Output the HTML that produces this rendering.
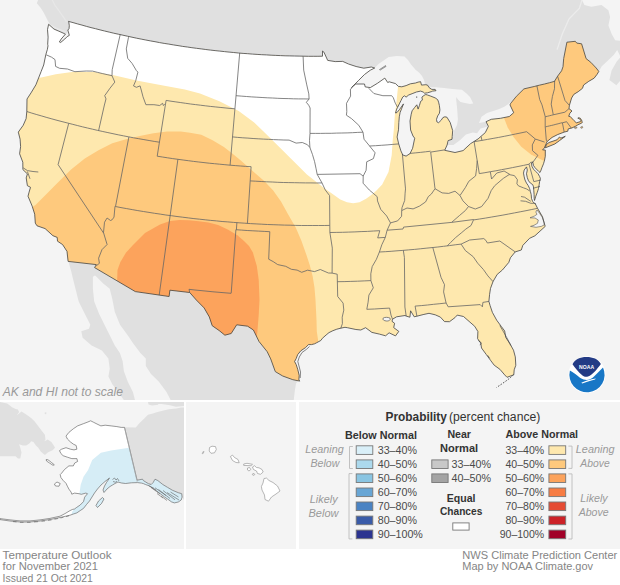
<!DOCTYPE html><html><head><meta charset="utf-8"><style>
html,body{margin:0;padding:0}
body{width:620px;height:585px;background:#fff;position:relative;overflow:hidden;font-family:"Liberation Sans",sans-serif}
</style></head><body>
<svg width="620" height="585" viewBox="0 0 620 585" style="position:absolute;left:0;top:0;font-family:'Liberation Sans',sans-serif">
<defs><clipPath id="usc"><path d="M68.7,21.3 L69.3,25.8 L69.0,28.8 L67.8,30.0 L68.4,31.8 L69.3,35.4 L67.2,36.6 L64.8,39.0 L60.6,42.5 L59.4,42.0 L61.2,39.0 L65.4,34.2 L63.0,33.0 L58.2,30.9 L54.0,29.1 L48.6,24.3 L47.5,29.6 L48.1,37.1 L47.7,44.3 L48.0,45.8 L47.4,49.3 L45.8,54.7 L43.7,65.0 L41.1,71.6 L35.9,84.8 L31.0,92.9 L27.0,99.0 L26.8,111.5 L26.1,118.7 L23.2,125.3 L18.3,132.1 L20.1,139.2 L20.6,146.7 L19.6,153.8 L22.8,162.2 L22.9,169.6 L27.4,173.9 L26.2,177.9 L27.4,185.7 L30.5,187.3 L29.1,192.1 L28.0,196.2 L32.2,206.2 L34.7,214.2 L35.3,223.1 L37.0,225.8 L45.1,228.6 L52.9,235.7 L57.2,237.4 L57.5,241.2 L62.6,244.6 L67.0,251.4 L68.1,261.4 L96.3,264.6 L94.6,267.6 L135.3,291.6 L169.1,296.5 L169.9,290.2 L189.7,292.5 L196.4,300.1 L204.1,307.9 L209.3,316.9 L212.2,325.7 L219.1,330.5 L224.9,335.2 L231.2,333.5 L236.7,324.8 L247.6,326.2 L253.4,330.0 L259.0,341.5 L267.2,351.7 L270.7,358.9 L275.3,371.6 L282.7,376.0 L292.8,379.7 L299.8,381.1 L298.9,380.0 L299.2,375.4 L297.7,369.2 L296.2,364.6 L294.6,361.5 L296.2,358.5 L297.7,354.6 L300.8,350.8 L305.4,347.7 L308.5,344.6 L311.5,344.6 L314.6,343.8 L316.5,342.8 L320.8,340.5 L322.3,338.4 L326.1,335.0 L329.0,332.6 L332.9,330.7 L336.8,329.2 L340.7,328.2 L345.0,327.3 L347.3,327.7 L355.9,329.5 L360.8,330.0 L365.6,327.7 L371.9,332.4 L379.4,334.1 L385.6,335.8 L389.1,332.8 L395.5,335.9 L398.8,331.4 L393.7,327.6 L394.6,323.3 L392.0,321.3 L392.5,319.2 L396.6,316.8 L405.0,315.5 L406.2,316.1 L409.9,317.2 L410.6,310.8 L414.2,316.8 L416.9,316.2 L423.1,314.6 L429.0,313.3 L435.2,314.8 L440.4,317.1 L444.5,321.6 L449.5,321.7 L455.1,317.5 L457.2,315.1 L463.5,316.5 L469.1,321.4 L474.7,326.3 L477.9,331.5 L477.6,338.7 L480.8,343.2 L481.5,348.0 L486.2,354.4 L490.9,360.8 L494.2,365.2 L499.9,369.3 L504.7,374.9 L507.0,377.3 L513.8,374.8 L514.2,369.8 L515.8,365.3 L515.3,356.9 L513.5,350.2 L509.9,343.7 L505.7,337.3 L504.7,331.0 L501.4,326.6 L496.7,320.2 L492.4,312.4 L490.1,305.6 L488.9,301.4 L489.6,294.3 L490.5,288.4 L493.0,281.6 L497.2,274.4 L502.4,270.0 L508.8,262.4 L510.4,257.8 L515.2,251.9 L521.3,250.0 L522.8,245.4 L529.6,238.3 L534.9,235.8 L545.2,226.4 L542.5,216.8 L537.6,208.4 L535.1,203.4 L535.5,204.0 L534.2,203.1 L532.7,201.5 L531.5,198.5 L531.2,194.6 L530.4,191.5 L529.6,188.5 L528.1,185.4 L526.5,183.1 L525.0,180.0 L524.2,176.9 L523.5,173.1 L524.2,170.0 L526.5,166.9 L527.3,170.0 L526.5,173.8 L527.3,177.7 L528.5,180.8 L530.4,183.1 L532.7,184.6 L533.5,186.9 L533.8,190.8 L534.1,194.6 L534.2,198.5 L534.5,200.5 L535.8,196.2 L537.3,192.3 L538.5,188.5 L539.2,184.6 L539.6,181.5 L540.4,178.5 L539.6,176.5 L538.1,173.8 L535.8,171.5 L533.5,169.2 L531.9,166.2 L531.5,163.1 L532.7,162.0 L533.5,165.5 L535.0,167.7 L537.3,170.0 L538.8,171.5 L540.0,172.5 L540.6,171.3 L541.9,167.7 L543.5,163.8 L544.6,160.0 L545.3,156.2 L545.3,150.0 L542.6,149.9 L544.3,148.0 L546.1,143.9 L547.1,141.5 L552.1,137.4 L557.8,134.5 L564.2,132.1 L567.8,131.2 L568.2,128.9 L571.8,128.0 L575.6,126.2 L577.9,124.8 L581.8,123.0 L582.2,122.6 L581.9,120.8 L580.4,118.3 L578.7,117.7 L577.8,118.2 L579.2,118.6 L580.8,120.4 L580.3,121.7 L576.3,122.8 L574.1,120.7 L570.3,116.6 L568.7,116.3 L569.9,113.1 L572.0,111.0 L569.0,108.6 L569.4,105.4 L571.6,98.0 L573.8,94.4 L578.2,91.7 L582.5,88.3 L583.6,85.0 L588.8,81.3 L594.1,78.2 L597.1,74.3 L598.8,71.4 L596.2,68.0 L590.8,62.3 L586.1,58.6 L581.6,43.8 L576.8,43.1 L575.3,41.3 L566.9,42.2 L563.7,58.5 L563.0,66.7 L561.6,70.8 L557.6,76.2 L554.6,81.1 L554.7,81.3 L549.6,82.7 L544.5,84.0 L539.3,85.2 L534.2,86.5 L529.0,87.7 L523.9,88.9 L516.4,96.3 L510.7,103.3 L510.0,104.9 L513.7,112.7 L509.3,116.5 L500.4,118.3 L491.3,119.3 L486.0,121.7 L488.4,126.3 L485.3,132.6 L478.1,138.9 L470.5,143.7 L463.1,150.6 L455.0,152.5 L444.7,150.3 L447.1,145.0 L448.1,140.6 L452.0,139.3 L452.2,136.5 L452.7,130.7 L450.2,122.5 L446.9,117.2 L444.8,116.8 L442.9,117.6 L441.2,120.2 L438.6,122.7 L436.9,121.9 L436.5,119.3 L437.7,115.9 L439.4,113.3 L439.9,109.9 L439.4,105.6 L438.6,102.2 L437.7,99.7 L435.2,97.9 L430.9,96.2 L427.5,95.0 L425.8,94.5 L424.1,95.4 L421.9,97.1 L422.4,100.1 L420.6,101.4 L419.4,105.6 L418.1,109.1 L416.8,104.8 L414.7,107.4 L412.1,110.8 L411.2,114.2 L410.0,121.0 L410.6,130.0 L413.0,136.0 L414.7,138.2 L412.6,148.3 L410.0,153.6 L406.1,156.1 L402.8,155.0 L400.9,150.9 L398.7,143.9 L397.1,137.0 L398.5,129.8 L398.8,122.7 L399.3,116.8 L400.1,112.5 L401.8,108.2 L403.5,103.9 L402.0,106.0 L399.5,109.5 L397.0,112.5 L395.5,113.0 L396.7,109.1 L397.6,107.4 L399.3,103.9 L401.0,100.5 L402.7,97.1 L404.4,95.8 L406.1,97.1 L408.7,95.0 L412.1,93.7 L416.4,92.0 L420.6,91.1 L423.2,92.0 L424.5,93.2 L427.5,92.8 L431.8,91.5 L432.6,91.1 L436.0,90.7 L435.2,89.4 L431.8,89.4 L429.2,87.7 L427.5,85.1 L425.8,84.7 L421.5,85.1 L420.6,81.7 L418.1,82.1 L415.5,83.0 L410.4,83.8 L406.1,85.6 L401.8,86.8 L398.4,86.4 L395.5,83.6 L389.2,81.8 L387.7,82.5 L384.8,78.1 L377.6,83.2 L370.3,87.6 L365.2,86.9 L364.5,84.0 L355.8,84.0 L351.5,87.6 L358.7,80.3 L364.5,74.5 L370.3,70.2 L374.7,68.0 L371.3,67.0 L363.8,68.2 L356.1,66.5 L348.5,64.0 L342.7,61.4 L335.2,61.6 L327.7,60.4 L323.9,52.1 L322.5,51.0 L322.5,56.2 L322.5,56.2 L317.9,56.3 L313.2,56.3 L308.5,56.3 L303.8,56.2 L299.1,56.1 L294.5,56.0 L289.8,55.9 L285.1,55.8 L280.4,55.6 L275.8,55.4 L271.1,55.2 L266.4,54.9 L261.7,54.7 L257.1,54.4 L252.4,54.1 L247.7,53.7 L243.1,53.4 L238.4,53.0 L233.7,52.5 L229.1,52.1 L224.4,51.6 L219.8,51.1 L215.1,50.6 L210.5,50.1 L205.8,49.5 L201.2,48.9 L196.5,48.3 L191.9,47.7 L187.3,47.0 L182.7,46.4 L178.0,45.6 L173.4,44.9 L168.8,44.1 L164.2,43.4 L159.6,42.6 L155.0,41.7 L150.4,40.9 L145.8,40.0 L141.2,39.1 L136.6,38.2 L132.0,37.2 L127.4,36.2 L122.9,35.2 L118.3,34.2 L113.7,33.2 L109.2,32.1 L104.6,31.0 L100.1,29.9 L95.5,28.7 L91.0,27.6 L86.5,26.4 L82.0,25.1 L77.5,23.9 L73.0,22.6 L68.5,21.4Z M545.4,147.8 L554.8,144.0 L559.4,140.7 L565.3,136.3 L560.9,138.1 L559.5,137.0 L557.0,139.8 L549.0,142.5 L546.3,144.6Z"/></clipPath><clipPath id="mapc"><rect width="620" height="400"/></clipPath></defs>
<rect width="620" height="585" fill="#fff"/>
<g clip-path="url(#mapc)">
<rect width="620" height="400" fill="#f4f4f4"/>
<path d="M39.0,-2.0 L36.8,3.2 L40.6,7.7 L43.9,12.9 L45.8,16.8 L47.7,20.6 L49.7,23.9 L48.6,24.3 L54.0,29.1 L58.2,30.9 L63.0,33.0 L65.4,34.2 L67.0,33.0 L68.4,31.8 L67.8,30.0 L69.0,28.8 L69.3,25.8 L68.7,21.3 L68.5,21.4 L73.0,22.6 L77.5,23.9 L82.0,25.1 L86.5,26.4 L91.0,27.6 L95.5,28.7 L100.1,29.9 L104.6,31.0 L109.2,32.1 L113.7,33.2 L118.3,34.2 L122.9,35.2 L127.4,36.2 L132.0,37.2 L136.6,38.2 L141.2,39.1 L145.8,40.0 L150.4,40.9 L155.0,41.7 L159.6,42.6 L164.2,43.4 L168.8,44.1 L173.4,44.9 L178.0,45.6 L182.7,46.4 L187.3,47.0 L191.9,47.7 L196.5,48.3 L201.2,48.9 L205.8,49.5 L210.5,50.1 L215.1,50.6 L219.8,51.1 L224.4,51.6 L229.1,52.1 L233.7,52.5 L238.4,53.0 L243.1,53.4 L247.7,53.7 L252.4,54.1 L257.1,54.4 L261.7,54.7 L266.4,54.9 L271.1,55.2 L275.8,55.4 L280.4,55.6 L285.1,55.8 L289.8,55.9 L294.5,56.0 L299.1,56.1 L303.8,56.2 L308.5,56.3 L313.2,56.3 L317.9,56.3 L322.5,56.2 L322.5,56.2 L322.5,51.0 L323.9,52.1 L327.7,60.4 L335.2,61.6 L342.7,61.4 L348.5,64.0 L356.1,66.5 L363.8,68.2 L371.3,67.0 L375.2,68.6 L374.7,68.0 L378.5,63.9 L388.7,57.1 L397.0,56.0 L404.5,56.5 L408.0,60.0 L411.0,64.4 L415.8,70.0 L419.0,72.5 L422.0,76.0 L424.0,80.0 L425.0,84.0 L428.1,87.3 L436.1,87.3 L444.2,88.1 L452.3,88.9 L461.9,89.7 L466.8,93.7 L470.0,96.9 L472.4,101.8 L473.2,103.4 L470.0,104.0 L465.0,103.0 L460.5,102.0 L458.0,99.5 L456.3,96.9 L456.2,100.0 L457.1,108.2 L457.9,119.5 L457.0,125.0 L455.0,129.0 L454.0,131.1 L452.7,136.4 L449.1,140.5 L447.4,145.0 L453.4,145.1 L460.0,140.3 L465.9,134.4 L472.8,132.6 L477.1,133.3 L480.5,128.4 L487.9,126.4 L486.0,121.7 L479.0,123.0 L481.5,116.8 L487.0,112.9 L498.6,109.3 L504.3,106.8 L508.7,103.7 L516.4,96.3 L523.9,88.9 L523.9,88.9 L529.0,87.7 L534.2,86.5 L539.3,85.2 L544.5,84.0 L549.6,82.7 L554.7,81.3 L554.6,81.1 L557.6,76.2 L561.6,70.8 L563.0,66.7 L563.7,58.5 L566.9,42.2 L575.3,41.3 L576.8,43.1 L581.6,43.8 L586.1,58.6 L590.8,62.3 L596.2,68.0 L598.8,71.4 L601.8,66.2 L606.6,61.7 L613.7,54.9 L617.2,50.0 L620.6,57.0 L616.9,61.2 L611.6,70.4 L609.4,80.0 L616.4,85.2 L621.8,78.9 L628.1,66.3 L632.1,62.7 L644.4,53.0 L640.0,90.0 L640.0,-2.0Z" fill="#e0e0e0"/>
<path d="M581.0,-2.0 L622.0,-2.0 L622.0,41.0 L615.2,40.2 L611.8,34.2 L608.4,25.6 L610.1,17.1 L608.4,10.3 L601.5,5.1 L591.3,6.8 L584.4,5.1Z" fill="#f4f4f4"/>
<path d="M557.1,49.6 L562.2,34.2 L569.1,18.8 L579.3,8.5 L582,0" fill="none" stroke="#ececec" stroke-width="1.3"/>
<path d="M52.3,0 L54.8,5.2 L58.7,10.3 L61.3,14.2 L64.5,18.7 L66.5,21.9" fill="none" stroke="#e7e7e7" stroke-width="1.2"/>
<path d="M50,25 L56,28.3 L62,30.6 L66,31.8" fill="none" stroke="#e8e8e8" stroke-width="1.8"/>
<path d="M68.4,261.6 L71.0,270.6 L73.5,281.0 L76.1,291.3 L78.7,301.6 L83.9,311.9 L90.3,324.8 L89.0,328.7 L81.3,331.3 L82.6,337.7 L91.6,345.5 L101.9,350.6 L108.4,358.4 L109.7,368.7 L108.4,376.5 L112.3,384.2 L120.0,394.5 L125.2,402.0 L135.5,402.0 L132.9,392.0 L127.7,381.6 L123.9,371.3 L122.6,361.0 L120.0,353.2 L114.8,345.5 L109.7,335.2 L104.5,324.8 L99.4,314.5 L94.2,301.6 L92.9,288.7 L92.9,277.1 L94.2,275.8 L95.5,275.8 L103.2,283.5 L109.7,288.7 L112.3,299.0 L114.8,311.9 L120.0,324.8 L127.7,335.2 L132.9,342.9 L140.6,353.2 L145.8,358.4 L145.8,366.1 L151.0,373.9 L158.7,381.6 L166.5,392.0 L171.6,402.0 L293.5,402.0 L294.8,391.0 L296.1,383.2 L298.7,380.6 L290.0,370.0 L262.0,335.0 L230.0,300.0 L190.0,290.0 L170.0,289.0 L135.0,287.0 L96.0,262.5 L68.4,259.5Z" fill="#e0e0e0"/>
<path d="M68.7,21.3 L69.3,25.8 L69.0,28.8 L67.8,30.0 L68.4,31.8 L69.3,35.4 L67.2,36.6 L64.8,39.0 L60.6,42.5 L59.4,42.0 L61.2,39.0 L65.4,34.2 L63.0,33.0 L58.2,30.9 L54.0,29.1 L48.6,24.3 L47.5,29.6 L48.1,37.1 L47.7,44.3 L48.0,45.8 L47.4,49.3 L45.8,54.7 L43.7,65.0 L41.1,71.6 L35.9,84.8 L31.0,92.9 L27.0,99.0 L26.8,111.5 L26.1,118.7 L23.2,125.3 L18.3,132.1 L20.1,139.2 L20.6,146.7 L19.6,153.8 L22.8,162.2 L22.9,169.6 L27.4,173.9 L26.2,177.9 L27.4,185.7 L30.5,187.3 L29.1,192.1 L28.0,196.2 L32.2,206.2 L34.7,214.2 L35.3,223.1 L37.0,225.8 L45.1,228.6 L52.9,235.7 L57.2,237.4 L57.5,241.2 L62.6,244.6 L67.0,251.4 L68.1,261.4 L96.3,264.6 L94.6,267.6 L135.3,291.6 L169.1,296.5 L169.9,290.2 L189.7,292.5 L196.4,300.1 L204.1,307.9 L209.3,316.9 L212.2,325.7 L219.1,330.5 L224.9,335.2 L231.2,333.5 L236.7,324.8 L247.6,326.2 L253.4,330.0 L259.0,341.5 L267.2,351.7 L270.7,358.9 L275.3,371.6 L282.7,376.0 L292.8,379.7 L299.8,381.1 L298.9,380.0 L299.2,375.4 L297.7,369.2 L296.2,364.6 L294.6,361.5 L296.2,358.5 L297.7,354.6 L300.8,350.8 L305.4,347.7 L308.5,344.6 L311.5,344.6 L314.6,343.8 L316.5,342.8 L320.8,340.5 L322.3,338.4 L326.1,335.0 L329.0,332.6 L332.9,330.7 L336.8,329.2 L340.7,328.2 L345.0,327.3 L347.3,327.7 L355.9,329.5 L360.8,330.0 L365.6,327.7 L371.9,332.4 L379.4,334.1 L385.6,335.8 L389.1,332.8 L395.5,335.9 L398.8,331.4 L393.7,327.6 L394.6,323.3 L392.0,321.3 L392.5,319.2 L396.6,316.8 L405.0,315.5 L406.2,316.1 L409.9,317.2 L410.6,310.8 L414.2,316.8 L416.9,316.2 L423.1,314.6 L429.0,313.3 L435.2,314.8 L440.4,317.1 L444.5,321.6 L449.5,321.7 L455.1,317.5 L457.2,315.1 L463.5,316.5 L469.1,321.4 L474.7,326.3 L477.9,331.5 L477.6,338.7 L480.8,343.2 L481.5,348.0 L486.2,354.4 L490.9,360.8 L494.2,365.2 L499.9,369.3 L504.7,374.9 L507.0,377.3 L513.8,374.8 L514.2,369.8 L515.8,365.3 L515.3,356.9 L513.5,350.2 L509.9,343.7 L505.7,337.3 L504.7,331.0 L501.4,326.6 L496.7,320.2 L492.4,312.4 L490.1,305.6 L488.9,301.4 L489.6,294.3 L490.5,288.4 L493.0,281.6 L497.2,274.4 L502.4,270.0 L508.8,262.4 L510.4,257.8 L515.2,251.9 L521.3,250.0 L522.8,245.4 L529.6,238.3 L534.9,235.8 L545.2,226.4 L542.5,216.8 L537.6,208.4 L535.1,203.4 L535.5,204.0 L534.2,203.1 L532.7,201.5 L531.5,198.5 L531.2,194.6 L530.4,191.5 L529.6,188.5 L528.1,185.4 L526.5,183.1 L525.0,180.0 L524.2,176.9 L523.5,173.1 L524.2,170.0 L526.5,166.9 L527.3,170.0 L526.5,173.8 L527.3,177.7 L528.5,180.8 L530.4,183.1 L532.7,184.6 L533.5,186.9 L533.8,190.8 L534.1,194.6 L534.2,198.5 L534.5,200.5 L535.8,196.2 L537.3,192.3 L538.5,188.5 L539.2,184.6 L539.6,181.5 L540.4,178.5 L539.6,176.5 L538.1,173.8 L535.8,171.5 L533.5,169.2 L531.9,166.2 L531.5,163.1 L532.7,162.0 L533.5,165.5 L535.0,167.7 L537.3,170.0 L538.8,171.5 L540.0,172.5 L540.6,171.3 L541.9,167.7 L543.5,163.8 L544.6,160.0 L545.3,156.2 L545.3,150.0 L542.6,149.9 L544.3,148.0 L546.1,143.9 L547.1,141.5 L552.1,137.4 L557.8,134.5 L564.2,132.1 L567.8,131.2 L568.2,128.9 L571.8,128.0 L575.6,126.2 L577.9,124.8 L581.8,123.0 L582.2,122.6 L581.9,120.8 L580.4,118.3 L578.7,117.7 L577.8,118.2 L579.2,118.6 L580.8,120.4 L580.3,121.7 L576.3,122.8 L574.1,120.7 L570.3,116.6 L568.7,116.3 L569.9,113.1 L572.0,111.0 L569.0,108.6 L569.4,105.4 L571.6,98.0 L573.8,94.4 L578.2,91.7 L582.5,88.3 L583.6,85.0 L588.8,81.3 L594.1,78.2 L597.1,74.3 L598.8,71.4 L596.2,68.0 L590.8,62.3 L586.1,58.6 L581.6,43.8 L576.8,43.1 L575.3,41.3 L566.9,42.2 L563.7,58.5 L563.0,66.7 L561.6,70.8 L557.6,76.2 L554.6,81.1 L554.7,81.3 L549.6,82.7 L544.5,84.0 L539.3,85.2 L534.2,86.5 L529.0,87.7 L523.9,88.9 L516.4,96.3 L510.7,103.3 L510.0,104.9 L513.7,112.7 L509.3,116.5 L500.4,118.3 L491.3,119.3 L486.0,121.7 L488.4,126.3 L485.3,132.6 L478.1,138.9 L470.5,143.7 L463.1,150.6 L455.0,152.5 L444.7,150.3 L447.1,145.0 L448.1,140.6 L452.0,139.3 L452.2,136.5 L452.7,130.7 L450.2,122.5 L446.9,117.2 L444.8,116.8 L442.9,117.6 L441.2,120.2 L438.6,122.7 L436.9,121.9 L436.5,119.3 L437.7,115.9 L439.4,113.3 L439.9,109.9 L439.4,105.6 L438.6,102.2 L437.7,99.7 L435.2,97.9 L430.9,96.2 L427.5,95.0 L425.8,94.5 L424.1,95.4 L421.9,97.1 L422.4,100.1 L420.6,101.4 L419.4,105.6 L418.1,109.1 L416.8,104.8 L414.7,107.4 L412.1,110.8 L411.2,114.2 L410.0,121.0 L410.6,130.0 L413.0,136.0 L414.7,138.2 L412.6,148.3 L410.0,153.6 L406.1,156.1 L402.8,155.0 L400.9,150.9 L398.7,143.9 L397.1,137.0 L398.5,129.8 L398.8,122.7 L399.3,116.8 L400.1,112.5 L401.8,108.2 L403.5,103.9 L402.0,106.0 L399.5,109.5 L397.0,112.5 L395.5,113.0 L396.7,109.1 L397.6,107.4 L399.3,103.9 L401.0,100.5 L402.7,97.1 L404.4,95.8 L406.1,97.1 L408.7,95.0 L412.1,93.7 L416.4,92.0 L420.6,91.1 L423.2,92.0 L424.5,93.2 L427.5,92.8 L431.8,91.5 L432.6,91.1 L436.0,90.7 L435.2,89.4 L431.8,89.4 L429.2,87.7 L427.5,85.1 L425.8,84.7 L421.5,85.1 L420.6,81.7 L418.1,82.1 L415.5,83.0 L410.4,83.8 L406.1,85.6 L401.8,86.8 L398.4,86.4 L395.5,83.6 L389.2,81.8 L387.7,82.5 L384.8,78.1 L377.6,83.2 L370.3,87.6 L365.2,86.9 L364.5,84.0 L355.8,84.0 L351.5,87.6 L358.7,80.3 L364.5,74.5 L370.3,70.2 L374.7,68.0 L371.3,67.0 L363.8,68.2 L356.1,66.5 L348.5,64.0 L342.7,61.4 L335.2,61.6 L327.7,60.4 L323.9,52.1 L322.5,51.0 L322.5,56.2 L322.5,56.2 L317.9,56.3 L313.2,56.3 L308.5,56.3 L303.8,56.2 L299.1,56.1 L294.5,56.0 L289.8,55.9 L285.1,55.8 L280.4,55.6 L275.8,55.4 L271.1,55.2 L266.4,54.9 L261.7,54.7 L257.1,54.4 L252.4,54.1 L247.7,53.7 L243.1,53.4 L238.4,53.0 L233.7,52.5 L229.1,52.1 L224.4,51.6 L219.8,51.1 L215.1,50.6 L210.5,50.1 L205.8,49.5 L201.2,48.9 L196.5,48.3 L191.9,47.7 L187.3,47.0 L182.7,46.4 L178.0,45.6 L173.4,44.9 L168.8,44.1 L164.2,43.4 L159.6,42.6 L155.0,41.7 L150.4,40.9 L145.8,40.0 L141.2,39.1 L136.6,38.2 L132.0,37.2 L127.4,36.2 L122.9,35.2 L118.3,34.2 L113.7,33.2 L109.2,32.1 L104.6,31.0 L100.1,29.9 L95.5,28.7 L91.0,27.6 L86.5,26.4 L82.0,25.1 L77.5,23.9 L73.0,22.6 L68.5,21.4Z M545.4,147.8 L554.8,144.0 L559.4,140.7 L565.3,136.3 L560.9,138.1 L559.5,137.0 L557.0,139.8 L549.0,142.5 L546.3,144.6Z" fill="#fee8ae"/>
<g clip-path="url(#usc)">
<path d="M20.0,215.0 L35.5,205.0 L46.5,194.0 L57.4,183.1 L71.1,169.4 L84.8,158.4 L98.5,150.2 L112.3,143.3 L126.0,139.2 L139.7,135.9 L153.4,133.2 L167.1,131.5 L180.8,131.5 L190.0,132.7 L201.3,134.7 L212.6,140.3 L223.9,147.1 L232.9,153.9 L240.8,160.6 L248.7,167.4 L255.5,173.5 L264.2,181.0 L273.2,190.5 L281.0,201.5 L288.2,214.4 L295.7,227.6 L301.4,240.8 L306.1,253.9 L309.8,265.2 L312.7,276.5 L314.5,287.8 L315.5,300.0 L316.5,320.0 L316.8,331.6 L318.0,339.4 L320.0,400.0 L0.0,400.0Z" fill="#fec97d"/>
<path d="M503.0,100.0 L503.9,117.7 L507.7,127.4 L513.5,137.1 L521.3,146.8 L531.0,154.5 L542.6,160.3 L550.0,162.0 L620.0,162.0 L620.0,0.0 L503.0,0.0Z" fill="#fec97d"/>
<path d="M117.0,285.0 L117.5,270.0 L120.4,262.0 L125.9,252.8 L133.0,245.0 L145.0,233.0 L160.0,224.5 L170.0,221.0 L179.4,220.0 L189.0,220.3 L198.7,221.2 L208.4,222.6 L218.1,225.1 L227.7,229.4 L237.4,235.2 L244.0,241.0 L249.0,246.0 L252.9,252.6 L256.8,266.1 L258.7,279.7 L259.5,300.0 L258.7,315.0 L257.4,331.6 L256.0,345.0 L250.0,400.0 L117.0,400.0Z" fill="#fca35c"/>
<path d="M0.0,0.0 L0.0,80.0 L30.0,79.0 L41.3,77.4 L55.8,74.2 L71.9,71.9 L94.5,71.9 L113.9,75.2 L136.5,80.6 L159.0,84.8 L184.8,89.5 L200.0,93.5 L219.4,101.3 L238.7,111.0 L254.2,122.6 L262.5,130.5 L272.7,140.5 L281.3,149.0 L289.8,157.4 L298.4,165.9 L306.9,174.4 L315.5,181.3 L324.0,188.1 L331.9,193.5 L340.3,199.5 L347.0,202.3 L353.2,203.3 L359.5,202.2 L366.1,198.8 L372.0,194.5 L376.5,190.5 L382.2,184.5 L388.5,171.9 L391.7,155.2 L392.7,140.5 L393.8,130.0 L394.9,114.3 L396.2,104.7 L398.0,86.9 L400.0,60.0 L400.0,0.0Z" fill="#ffffff"/>
</g>
<path d="M385.6,65.6 L381,68.6 L379.5,69.6 L380.3,70 L386,66.4Z" fill="#e9e9e9" stroke="#555" stroke-width="0.6"/>
<path d="M416.4,96.3 L417.2,96.5 L417.1,98 L416.3,97.8Z" fill="#555"/>
<path d="M383,318.3 C384.5,317 388,317 390,318.2 C391,319.8 389,321.2 386.5,321 C384,320.8 382.5,319.8 383,318.3Z" fill="#f4f4f4" stroke="#555" stroke-width="0.7"/>
<path d="M537,210 L539.8,213.7 L542.2,217.1 L543.9,222.2 L544.3,224.8 L541.5,226.3 L536,227.3 L530.5,226.4 L534,225.3 L537.5,223.3 L538.3,220 L535,218 L530,217.8 L534.5,216 L537,214.3 L535.8,212Z" fill="#f4f4f4" stroke="#555" stroke-width="0.6"/>
<path d="M574.2,127.8 L576,127 L577.2,127.6 L575.5,128.6Z M580.6,127.2 L582.3,126.4 L582.8,127.6 L581.2,128.3Z" fill="#fec97d" stroke="#555" stroke-width="0.6"/>
<path d="M513.6,374.6 L510,378 L506,381 L502,383.8 L498,386.5 L496.5,387.5" fill="none" stroke="#555" stroke-width="1" stroke-dasharray="1.6,1.4"/>
<path d="M46.2,54.8 L51.6,57.2 L55.0,59.6 L55.6,66.4 L59.6,68.3 L67.5,69.0 L74.9,71.7 L86.2,71.0 L92.5,71.1 L92.5,71.1 L97.3,72.3 L102.2,73.5 L107.1,74.6 L112.0,75.7 M120.2,34.6 L112.2,69.7 L112.0,75.7 L114.8,82.1 L110.0,88.2 L104.7,95.7 L106.0,98.9 L104.4,105.0 L98.6,130.6 M26.8,111.5 L31.8,113.1 L36.8,114.6 L41.8,116.0 L46.9,117.5 L51.9,118.9 L57.0,120.3 L62.0,121.6 L67.1,122.9 L72.2,124.2 L77.3,125.5 L82.4,126.8 L87.5,128.0 L92.6,129.2 L97.7,130.4 L102.8,131.5 L107.9,132.6 L113.0,133.7 L118.2,134.8 L123.3,135.8 L128.4,136.8 L133.6,137.8 L138.7,138.7 L143.9,139.6 L149.1,140.5 L154.2,141.4 L159.4,142.2 M166.1,100.4 L157.2,156.2 M166.1,100.4 L171.0,101.2 L175.9,101.9 L180.8,102.6 L185.7,103.3 L190.6,104.0 L195.5,104.6 L200.4,105.2 L205.3,105.8 L210.3,106.4 L215.2,106.9 L220.1,107.4 L225.0,107.9 L230.0,108.4 L234.9,108.8 M157.2,156.2 L162.4,157.0 L167.5,157.8 L172.7,158.6 L177.9,159.3 L183.1,160.0 L188.3,160.7 L193.6,161.4 L198.8,162.0 L204.0,162.6 L209.2,163.2 L214.4,163.7 L219.7,164.2 L224.9,164.7 L230.1,165.2 L235.3,165.6 L240.6,166.0 L245.8,166.4 L251.1,166.7 M115.4,206.5 L121.0,207.6 L126.6,208.6 L132.2,209.6 L137.8,210.6 L143.4,211.5 L149.0,212.4 L154.6,213.3 L160.2,214.1 L165.8,215.0 L171.4,215.7 L177.0,216.5 L182.7,217.2 L188.3,217.9 L193.9,218.6 L199.6,219.2 L205.2,219.8 L210.8,220.4 L216.5,220.9 L222.1,221.5 L227.8,221.9 L233.5,222.4 L239.1,222.8 L244.8,223.2 L250.4,223.6 L256.1,223.9 L261.8,224.2 L267.4,224.5 L273.1,224.7 L278.8,224.9 L284.4,225.1 L290.1,225.2 L295.8,225.4 L301.5,225.5 L307.1,225.5 L312.8,225.5 L318.5,225.5 L324.2,225.5 L329.8,225.4 M177.9,159.3 L159.2,295.1 M251.1,166.7 L247.4,223.4 M128.9,136.9 L115.5,206.5 M68.7,123.4 L58.1,164.6 L103.6,233.1 M189.7,292.5 L189.0,289.3 L189.0,289.3 L195.0,290.0 L201.0,290.6 L207.0,291.2 L213.0,291.8 L219.0,292.3 L225.0,292.8 L231.0,293.3 M231.2,293.3 L235.9,229.7 M236.4,229.7 L236.9,222.6 M235.9,229.7 L241.6,230.1 L247.2,230.5 L252.9,230.8 L258.5,231.1 L264.2,231.4 L269.8,231.7 M269.8,231.7 L268.7,259.2 L273.2,261.6 L277.7,264.6 L285.7,266.3 L291.4,269.3 L297.1,270.1 L301.7,272.3 L307.6,270.2 L314.5,271.6 L320.3,269.5 L328.4,273.0 L332.1,273.1 M239.7,53.1 L230.1,165.2 M236.0,95.7 L241.2,96.1 L246.5,96.5 L251.7,96.9 L256.9,97.2 L262.1,97.5 L267.3,97.8 L272.5,98.0 L277.8,98.3 L283.0,98.5 L288.2,98.6 L293.4,98.8 L298.7,98.9 L303.9,98.9 L309.1,99.0 M232.5,136.9 L237.7,137.4 L242.8,137.8 L247.9,138.1 L253.1,138.5 L258.2,138.8 L263.3,139.1 L268.5,139.3 L273.6,139.6 L278.8,139.8 L283.9,140.0 L289.1,140.1 M303.1,56.2 L303.7,70.1 L306.6,84.1 L308.8,93.9 L309.1,99.0 L306.3,102.3 L308.7,105.2 L310.1,108.0 L310.0,133.4 L309.5,140.4 L309.9,147.5 M289.1,140.1 L296.1,143.1 L302.3,142.5 L307.4,144.7 L309.9,147.5 L312.5,154.6 L314.6,161.7 L316.1,168.8 L317.2,174.4 L322.0,182.9 L325.3,190.0 L329.6,195.6 L329.8,225.4 L329.9,232.5 L332.3,248.1 L332.1,273.1 L337.2,274.2 L337.7,296.5 L343.1,303.1 L343.8,310.1 L342.2,317.2 L342.4,323.6 L340.7,328.5 M250.2,180.9 L255.7,181.2 L261.2,181.5 L266.7,181.8 L272.2,182.0 L277.8,182.3 L283.3,182.5 L288.8,182.6 L294.4,182.7 L299.9,182.8 L305.4,182.9 L310.9,182.9 L316.5,183.0 L322.0,182.9 M337.4,281.7 L344.1,281.6 L350.8,281.4 L357.5,281.2 L364.2,280.9 L370.9,280.6 M329.9,232.5 L336.2,232.4 L342.4,232.3 L348.7,232.1 L354.9,231.9 L361.1,231.6 L367.4,231.4 L373.6,231.0 L379.8,230.7 M379.8,230.7 L377.7,237.9 L377.7,237.9 L385.3,237.4 M352.3,87.6 L350.4,89.1 L350.6,96.1 L346.5,103.3 L346.8,111.7 L346.4,115.2 L351.5,118.6 L358.8,125.3 L363.0,132.2 L364.0,139.2 L369.6,146.0 L375.1,152.8 L373.4,158.6 L366.7,161.8 L366.1,170.3 L363.2,176.1 L363.1,183.2 L369.3,190.0 L377.2,196.7 L377.5,200.9 L380.7,209.3 L386.7,216.0 L390.5,222.9 L387.1,230.2 L385.3,237.4 L381.8,244.8 L379.4,252.0 L376.4,259.3 L372.2,266.6 L370.8,273.8 L370.9,280.6 L373.3,287.8 L368.9,295.1 L368.1,302.2 L366.8,309.3 L366.8,309.3 L374.4,309.0 L382.0,308.5 L389.6,308.1 L391.0,315.1 L392.5,319.2 M317.2,174.4 L360.0,173.7 L363.2,176.1 M310.0,133.4 L315.3,133.4 L320.6,133.4 L325.9,133.3 L331.2,133.3 L336.5,133.1 L341.8,133.0 L347.1,132.9 L352.4,132.7 L357.7,132.4 L363.0,132.2 M403.3,250.3 L404.4,257.4 L404.9,307.0 L406.2,316.1 M415.1,306.1 L421.3,305.6 L427.5,305.0 L433.7,304.3 L439.9,303.7 L446.1,303.0 M415.1,306.1 L416.9,316.2 M432.8,247.5 L441.0,277.3 L444.5,284.7 L443.6,291.9 L446.1,303.0 L448.2,306.8 L480.2,304.6 L482.4,306.8 L482.9,302.4 L488.9,301.4 M379.4,252.0 L385.3,251.7 L391.1,251.3 L397.0,250.8 L402.8,250.4 L408.6,249.9 L414.5,249.4 L420.3,248.8 L426.1,248.2 L432.0,247.6 L437.8,247.0 L443.6,246.3 L449.4,245.6 L455.2,244.8 L461.1,244.1 M461.1,244.1 L465.4,250.6 L473.2,256.7 L477.7,263.2 L483.4,269.5 L487.9,275.9 L493.0,281.6 M461.1,244.1 L469.7,240.0 L483.8,238.6 L485.9,240.4 L487.4,243.0 L499.8,241.0 L515.2,251.9 M447.3,245.8 L450.5,242.6 L455.6,237.6 L461.8,232.5 L465.8,229.1 L471.0,225.5 L473.7,219.5 M473.8,219.9 L479.6,219.0 L485.4,218.1 L491.2,217.1 L497.1,216.1 L502.9,215.1 L508.7,214.0 L514.5,212.9 L520.2,211.8 L526.0,210.7 L531.8,209.5 L537.6,208.3 M473.7,219.5 L451.6,222.4 L403.6,227.1 L403.0,229.0 L387.1,230.2 M451.6,222.4 L459.4,215.6 L465.4,210.5 L468.5,206.5 L462.9,200.8 L460.0,195.5 M460.0,195.5 L455.0,191.2 L448.7,193.4 L442.1,192.9 L435.0,188.7 L431.3,194.1 L428.3,196.6 L425.6,201.9 L419.5,206.1 L413.1,208.9 L407.0,208.0 L401.7,210.6 L401.6,216.3 L397.6,220.9 L390.5,222.9 M460.0,195.5 L465.4,187.5 L468.8,181.3 L475.6,175.9 L476.6,168.6 L477.2,160.7 M468.5,206.5 L475.3,209.0 L481.6,206.6 L488.0,198.4 L491.2,190.6 L494.7,185.7 L503.3,178.4 L509.6,174.3 L504.1,171.0 L496.8,173.0 L491.6,179.0 L490.3,171.8 M479.3,173.6 L484.9,172.7 L490.4,171.7 L495.9,170.8 L501.5,169.7 L507.0,168.7 L512.5,167.6 L518.0,166.5 L523.5,165.4 L529.0,164.2 M479.3,173.6 L474.1,141.7 M474.1,141.7 L481.9,140.4 L481.2,136.6 M529.0,164.2 L533.8,181.6 L540.7,180.1 M533.0,188.3 L539.9,186.4 M481.9,140.4 L487.5,139.4 L493.1,138.4 L498.7,137.4 L504.3,136.3 L509.9,135.2 L515.5,134.0 L521.0,132.9 L526.6,131.7 M526.6,131.7 L530.0,134.5 L535.3,139.0 L544.6,142.1 M535.3,139.0 L532.3,144.9 L532.5,150.7 L537.9,155.3 L532.9,162.2 L530.7,162.3 L529.0,164.2 M536.9,85.8 L539.7,99.6 L542.0,104.9 L545.2,116.5 L545.2,126.7 L546.3,140.2 L547.1,141.5 M554.6,81.1 L554.5,88.7 L552.4,96.5 L551.2,104.1 L553.3,114.8 M545.2,116.8 L547.3,116.3 L549.3,115.8 L551.3,115.3 L553.3,114.8 M553.3,114.8 L564.9,112.2 L569.0,108.6 M557.6,76.2 L565.0,100.5 L569.4,105.4 M545.3,126.9 L547.4,126.4 L549.5,125.9 L551.7,125.4 L553.8,124.9 L555.9,124.3 L558.1,123.8 L560.2,123.2 L562.3,122.7 M562.4,122.8 L566.6,121.7 L571.3,128.1 M562.4,122.8 L564.2,132.1 M430.7,152.1 L444.6,149.9 M410.0,153.4 L415.2,152.9 L420.3,152.4 L425.5,151.8 L430.6,151.2 M430.7,152.1 L435.0,188.7 M402.4,154.1 L405.5,188.9 L405.1,193.2 L404.7,200.4 L402.0,207.7 L401.7,210.6 M369.6,146.0 L375.5,145.7 L381.3,145.3 L387.1,144.9 L392.9,144.4 L398.7,143.9 M368.7,88.2 L373.9,93.5 L382.9,95.7 L391.7,95.7 L393.3,97.7 L395.3,103.2 L397.6,107.2 M115.0,206.3 L114.0,217.1 L112.2,219.7 L110.5,220.5 L107.1,218.0 L104.5,222.2 L103.5,232.6 L107.1,244.5 L102.0,249.6 L98.6,258.2 L99.4,263.3 L96.3,265.8 M128.6,36.6 L128.5,37.3 L126.3,48.9 L127.7,58.3 L132.1,63.4 L136.4,70.6 L137.9,72.1 L135.7,80.8 L133.5,85.9 L136.4,87.3 L140.1,85.9 L141.5,91.0 L143.0,96.8 L145.9,104.7 L153.9,104.7 L159.7,105.5 L162.6,103.3 L163.3,105.5 L164.8,104.2 M509.2,174.6 L514.4,175.6 L517.4,179.7 L516.9,183.8 L518.5,185.9 L523.6,187.9 L526.7,189.0 L529.7,191.0 M521.0,196.5 L524.6,197.2 L529.2,200.3 L530.8,201.3 M520.5,200.8 L525.6,201.3 L530.8,203.3 L534.5,203.3 M23.3,167.9 L27.4,170.6 L33.0,171.5 L38.3,172.0 M27.4,171.5 L30.0,178.8 M300.2,378.0 L300.5,372.0 L299.0,366.0 L297.8,361.5 L299.3,357.0 L302.0,352.5 L306.5,349.3 L309.5,346.5 M499.8,325.5 L503.0,331.0 L507.0,338.0 L510.8,345.5 M478.3,340.5 L481.3,342.8 L480.0,345.2 M487.6,355.3 L489.8,358.3" fill="none" stroke="#666" stroke-width="0.8" stroke-linejoin="round"/>
<path d="M68.7,21.3 L69.3,25.8 L69.0,28.8 L67.8,30.0 L68.4,31.8 L69.3,35.4 L67.2,36.6 L64.8,39.0 L60.6,42.5 L59.4,42.0 L61.2,39.0 L65.4,34.2 L63.0,33.0 L58.2,30.9 L54.0,29.1 L48.6,24.3 L47.5,29.6 L48.1,37.1 L47.7,44.3 L48.0,45.8 L47.4,49.3 L45.8,54.7 L43.7,65.0 L41.1,71.6 L35.9,84.8 L31.0,92.9 L27.0,99.0 L26.8,111.5 L26.1,118.7 L23.2,125.3 L18.3,132.1 L20.1,139.2 L20.6,146.7 L19.6,153.8 L22.8,162.2 L22.9,169.6 L27.4,173.9 L26.2,177.9 L27.4,185.7 L30.5,187.3 L29.1,192.1 L28.0,196.2 L32.2,206.2 L34.7,214.2 L35.3,223.1 L37.0,225.8 L45.1,228.6 L52.9,235.7 L57.2,237.4 L57.5,241.2 L62.6,244.6 L67.0,251.4 L68.1,261.4 L96.3,264.6 L94.6,267.6 L135.3,291.6 L169.1,296.5 L169.9,290.2 L189.7,292.5 L196.4,300.1 L204.1,307.9 L209.3,316.9 L212.2,325.7 L219.1,330.5 L224.9,335.2 L231.2,333.5 L236.7,324.8 L247.6,326.2 L253.4,330.0 L259.0,341.5 L267.2,351.7 L270.7,358.9 L275.3,371.6 L282.7,376.0 L292.8,379.7 L299.8,381.1 L298.9,380.0 L299.2,375.4 L297.7,369.2 L296.2,364.6 L294.6,361.5 L296.2,358.5 L297.7,354.6 L300.8,350.8 L305.4,347.7 L308.5,344.6 L311.5,344.6 L314.6,343.8 L316.5,342.8 L320.8,340.5 L322.3,338.4 L326.1,335.0 L329.0,332.6 L332.9,330.7 L336.8,329.2 L340.7,328.2 L345.0,327.3 L347.3,327.7 L355.9,329.5 L360.8,330.0 L365.6,327.7 L371.9,332.4 L379.4,334.1 L385.6,335.8 L389.1,332.8 L395.5,335.9 L398.8,331.4 L393.7,327.6 L394.6,323.3 L392.0,321.3 L392.5,319.2 L396.6,316.8 L405.0,315.5 L406.2,316.1 L409.9,317.2 L410.6,310.8 L414.2,316.8 L416.9,316.2 L423.1,314.6 L429.0,313.3 L435.2,314.8 L440.4,317.1 L444.5,321.6 L449.5,321.7 L455.1,317.5 L457.2,315.1 L463.5,316.5 L469.1,321.4 L474.7,326.3 L477.9,331.5 L477.6,338.7 L480.8,343.2 L481.5,348.0 L486.2,354.4 L490.9,360.8 L494.2,365.2 L499.9,369.3 L504.7,374.9 L507.0,377.3 L513.8,374.8 L514.2,369.8 L515.8,365.3 L515.3,356.9 L513.5,350.2 L509.9,343.7 L505.7,337.3 L504.7,331.0 L501.4,326.6 L496.7,320.2 L492.4,312.4 L490.1,305.6 L488.9,301.4 L489.6,294.3 L490.5,288.4 L493.0,281.6 L497.2,274.4 L502.4,270.0 L508.8,262.4 L510.4,257.8 L515.2,251.9 L521.3,250.0 L522.8,245.4 L529.6,238.3 L534.9,235.8 L545.2,226.4 L542.5,216.8 L537.6,208.4 L535.1,203.4 L535.5,204.0 L534.2,203.1 L532.7,201.5 L531.5,198.5 L531.2,194.6 L530.4,191.5 L529.6,188.5 L528.1,185.4 L526.5,183.1 L525.0,180.0 L524.2,176.9 L523.5,173.1 L524.2,170.0 L526.5,166.9 L527.3,170.0 L526.5,173.8 L527.3,177.7 L528.5,180.8 L530.4,183.1 L532.7,184.6 L533.5,186.9 L533.8,190.8 L534.1,194.6 L534.2,198.5 L534.5,200.5 L535.8,196.2 L537.3,192.3 L538.5,188.5 L539.2,184.6 L539.6,181.5 L540.4,178.5 L539.6,176.5 L538.1,173.8 L535.8,171.5 L533.5,169.2 L531.9,166.2 L531.5,163.1 L532.7,162.0 L533.5,165.5 L535.0,167.7 L537.3,170.0 L538.8,171.5 L540.0,172.5 L540.6,171.3 L541.9,167.7 L543.5,163.8 L544.6,160.0 L545.3,156.2 L545.3,150.0 L542.6,149.9 L544.3,148.0 L546.1,143.9 L547.1,141.5 L552.1,137.4 L557.8,134.5 L564.2,132.1 L567.8,131.2 L568.2,128.9 L571.8,128.0 L575.6,126.2 L577.9,124.8 L581.8,123.0 L582.2,122.6 L581.9,120.8 L580.4,118.3 L578.7,117.7 L577.8,118.2 L579.2,118.6 L580.8,120.4 L580.3,121.7 L576.3,122.8 L574.1,120.7 L570.3,116.6 L568.7,116.3 L569.9,113.1 L572.0,111.0 L569.0,108.6 L569.4,105.4 L571.6,98.0 L573.8,94.4 L578.2,91.7 L582.5,88.3 L583.6,85.0 L588.8,81.3 L594.1,78.2 L597.1,74.3 L598.8,71.4 L596.2,68.0 L590.8,62.3 L586.1,58.6 L581.6,43.8 L576.8,43.1 L575.3,41.3 L566.9,42.2 L563.7,58.5 L563.0,66.7 L561.6,70.8 L557.6,76.2 L554.6,81.1 L554.7,81.3 L549.6,82.7 L544.5,84.0 L539.3,85.2 L534.2,86.5 L529.0,87.7 L523.9,88.9 L516.4,96.3 L510.7,103.3 L510.0,104.9 L513.7,112.7 L509.3,116.5 L500.4,118.3 L491.3,119.3 L486.0,121.7 L488.4,126.3 L485.3,132.6 L478.1,138.9 L470.5,143.7 L463.1,150.6 L455.0,152.5 L444.7,150.3 L447.1,145.0 L448.1,140.6 L452.0,139.3 L452.2,136.5 L452.7,130.7 L450.2,122.5 L446.9,117.2 L444.8,116.8 L442.9,117.6 L441.2,120.2 L438.6,122.7 L436.9,121.9 L436.5,119.3 L437.7,115.9 L439.4,113.3 L439.9,109.9 L439.4,105.6 L438.6,102.2 L437.7,99.7 L435.2,97.9 L430.9,96.2 L427.5,95.0 L425.8,94.5 L424.1,95.4 L421.9,97.1 L422.4,100.1 L420.6,101.4 L419.4,105.6 L418.1,109.1 L416.8,104.8 L414.7,107.4 L412.1,110.8 L411.2,114.2 L410.0,121.0 L410.6,130.0 L413.0,136.0 L414.7,138.2 L412.6,148.3 L410.0,153.6 L406.1,156.1 L402.8,155.0 L400.9,150.9 L398.7,143.9 L397.1,137.0 L398.5,129.8 L398.8,122.7 L399.3,116.8 L400.1,112.5 L401.8,108.2 L403.5,103.9 L402.0,106.0 L399.5,109.5 L397.0,112.5 L395.5,113.0 L396.7,109.1 L397.6,107.4 L399.3,103.9 L401.0,100.5 L402.7,97.1 L404.4,95.8 L406.1,97.1 L408.7,95.0 L412.1,93.7 L416.4,92.0 L420.6,91.1 L423.2,92.0 L424.5,93.2 L427.5,92.8 L431.8,91.5 L432.6,91.1 L436.0,90.7 L435.2,89.4 L431.8,89.4 L429.2,87.7 L427.5,85.1 L425.8,84.7 L421.5,85.1 L420.6,81.7 L418.1,82.1 L415.5,83.0 L410.4,83.8 L406.1,85.6 L401.8,86.8 L398.4,86.4 L395.5,83.6 L389.2,81.8 L387.7,82.5 L384.8,78.1 L377.6,83.2 L370.3,87.6 L365.2,86.9 L364.5,84.0 L355.8,84.0 L351.5,87.6 L358.7,80.3 L364.5,74.5 L370.3,70.2 L374.7,68.0 L371.3,67.0 L363.8,68.2 L356.1,66.5 L348.5,64.0 L342.7,61.4 L335.2,61.6 L327.7,60.4 L323.9,52.1 L322.5,51.0 L322.5,56.2 L322.5,56.2 L317.9,56.3 L313.2,56.3 L308.5,56.3 L303.8,56.2 L299.1,56.1 L294.5,56.0 L289.8,55.9 L285.1,55.8 L280.4,55.6 L275.8,55.4 L271.1,55.2 L266.4,54.9 L261.7,54.7 L257.1,54.4 L252.4,54.1 L247.7,53.7 L243.1,53.4 L238.4,53.0 L233.7,52.5 L229.1,52.1 L224.4,51.6 L219.8,51.1 L215.1,50.6 L210.5,50.1 L205.8,49.5 L201.2,48.9 L196.5,48.3 L191.9,47.7 L187.3,47.0 L182.7,46.4 L178.0,45.6 L173.4,44.9 L168.8,44.1 L164.2,43.4 L159.6,42.6 L155.0,41.7 L150.4,40.9 L145.8,40.0 L141.2,39.1 L136.6,38.2 L132.0,37.2 L127.4,36.2 L122.9,35.2 L118.3,34.2 L113.7,33.2 L109.2,32.1 L104.6,31.0 L100.1,29.9 L95.5,28.7 L91.0,27.6 L86.5,26.4 L82.0,25.1 L77.5,23.9 L73.0,22.6 L68.5,21.4Z M545.4,147.8 L554.8,144.0 L559.4,140.7 L565.3,136.3 L560.9,138.1 L559.5,137.0 L557.0,139.8 L549.0,142.5 L546.3,144.6Z" fill="none" stroke="#444" stroke-width="0.8" stroke-linejoin="round"/>
<circle cx="587" cy="374.7" r="18.5" fill="#fff"/>
<path d="M569.9,370.6 C573,372 577,375.5 580,377.8 C582.5,379.3 585,380 586.5,380 C589,380 592,378.5 594,376.5 C597,373.5 600,370.3 603,367.4 A17.6,17.6 0 1 1 569.9,370.6Z" fill="#1877c6"/>
<path d="M572.5,364.2 C575,359 580,357 586.5,357 C593,357 598,359 600.9,363.9 C597,369 593,374.5 588,376.5 C586,377.2 584,376.8 582.5,375.5 C578,372 575,367.5 572.5,364.2Z" fill="#233b85"/>
<path d="M581.3,382.8 C585,381 590,379.3 595.8,378.4 L595,379.6 C590,380.8 586,382.4 582.3,383.6Z" fill="#fff"/>
<text x="586.6" y="368.5" font-size="5.6" font-weight="bold" fill="#fff" text-anchor="middle" textLength="15" lengthAdjust="spacingAndGlyphs">NOAA</text>
<text x="2.7" y="395.5" font-size="12" font-weight="normal" font-style="italic" fill="#999" textLength="120.3" lengthAdjust="spacingAndGlyphs">AK and HI not to scale</text>
</g>
<rect x="0" y="402" width="184" height="147" fill="#f4f4f4"/>
<path d="M0.0,402.0 L7.2,403.6 L12.0,407.2 L15.6,409.0 L17.9,409.6 L19.1,412.0 L16.7,415.6 L21.5,411.4 L26.3,414.4 L31.1,417.9 L34.7,421.5 L38.3,426.3 L41.9,431.1 L44.9,434.7 L45.5,439.5 L44.3,441.3 L47.8,439.5 L51.4,441.9 L53.8,445.5 L55.0,447.8 L52.6,450.2 L47.8,452.6 L44.9,455.0 L40.7,451.4 L38.3,447.8 L35.9,445.5 L33.5,441.9 L31.1,441.3 L29.9,443.1 L26.3,445.5 L22.7,445.5 L19.1,444.3 L20.3,447.8 L21.5,452.6 L20.3,458.6 L17.9,458.6 L15.6,456.2 L10.8,456.2 L6.0,456.2 L0.0,456.2Z" fill="#e0e0e0"/>
<path d="M124.1,427.3 L135.7,427.6 L139.4,423.3 L144.3,418.4 L148.0,414.7 L152.9,413.5 L156.6,412.3 L161.5,411.0 L168.8,409.2 L176.2,408.6 L181.1,407.4 L184.0,407.4 L184.0,500.0 L182.1,497.1 L181.7,493.7 L178.3,492.7 L172.5,490.3 L167.6,487.4 L162.8,484.5 L157.9,480.6 L155.0,479.2 L153.1,482.6 L151.2,484.5 L148.3,483.6 L143.4,480.6 L142.5,479.2 L137.1,480.2Z" fill="#e0e0e0"/>
<path d="M148.0,402.0 L159.5,402.0 L158.0,404.8 L152.0,405.5 L148.5,404.5 L148.0,402.0 L168.5,402.0 L184.0,402.0 L184.0,406.0 L176.0,406.8 L170.0,405.2Z" fill="#e0e0e0"/>
<clipPath id="akc"><path d="M66.0,436.1 L68.9,432.4 L73.3,428.8 L77.6,425.9 L83.4,423.7 L87.1,422.3 L90.7,420.8 L93.6,422.3 L98.0,424.5 L100.9,425.9 L105.2,425.2 L111.1,425.9 L116.9,426.6 L121.2,427.4 L124.5,427.4 L137.1,480.2 L142.5,479.2 L143.4,480.6 L148.3,483.6 L151.2,484.5 L153.1,482.6 L155.0,479.2 L157.9,480.6 L162.8,484.5 L167.6,487.4 L172.5,490.3 L178.3,492.7 L181.7,493.7 L182.1,497.1 L181.2,500.0 L178.3,502.0 L174.4,502.9 L171.5,501.9 L167.6,499.0 L164.7,497.1 L160.9,494.2 L157.0,491.3 L154.1,488.4 L151.2,486.9 L148.3,485.5 L145.4,484.5 L143.4,483.6 L141.5,483.1 L137.6,482.6 L131.4,482.8 L125.6,483.5 L121.5,483.0 L118.0,482.0 L115.0,483.5 L112.5,485.0 L110.0,486.5 L107.0,489.0 L104.0,492.5 L103.0,490.0 L104.5,486.0 L106.5,482.5 L109.5,478.0 L105.0,481.5 L101.0,485.0 L97.5,489.0 L94.5,493.0 L92.0,497.0 L89.5,501.0 L86.5,504.5 L83.5,508.4 L80.2,510.6 L76.8,512.9 L73.4,514.0 L70.0,515.2 L60.0,517.5 L50.0,519.5 L40.0,521.0 L30.0,522.0 L20.0,522.0 L10.0,521.0 L0.0,519.6 L0.0,518.6 L10.0,519.9 L20.0,520.9 L30.0,520.9 L40.0,519.9 L50.0,518.4 L60.0,516.2 L65.0,513.6 L70.0,510.6 L72.3,509.5 L74.5,509.0 L76.8,507.3 L80.2,505.0 L83.5,501.6 L84.7,497.1 L87.5,493.7 L85.8,493.1 L81.3,494.3 L79.0,493.7 L74.5,493.1 L71.8,494.2 L71.1,492.1 L68.9,489.1 L67.4,486.2 L66.0,483.3 L63.1,480.4 L60.9,477.5 L60.2,474.6 L61.6,473.2 L64.5,469.5 L68.9,465.9 L73.3,465.9 L74.7,463.0 L77.6,461.5 L76.9,458.6 L71.8,458.6 L67.4,457.2 L63.1,455.7 L60.9,453.5 L59.5,450.6 L61.6,449.2 L66.0,447.7 L70.4,449.2 L74.0,449.9 L76.9,449.2 L76.2,445.5 L73.3,444.1 L70.4,441.9 L67.4,439.0Z"/></clipPath>
<path d="M66.0,436.1 L68.9,432.4 L73.3,428.8 L77.6,425.9 L83.4,423.7 L87.1,422.3 L90.7,420.8 L93.6,422.3 L98.0,424.5 L100.9,425.9 L105.2,425.2 L111.1,425.9 L116.9,426.6 L121.2,427.4 L124.5,427.4 L137.1,480.2 L142.5,479.2 L143.4,480.6 L148.3,483.6 L151.2,484.5 L153.1,482.6 L155.0,479.2 L157.9,480.6 L162.8,484.5 L167.6,487.4 L172.5,490.3 L178.3,492.7 L181.7,493.7 L182.1,497.1 L181.2,500.0 L178.3,502.0 L174.4,502.9 L171.5,501.9 L167.6,499.0 L164.7,497.1 L160.9,494.2 L157.0,491.3 L154.1,488.4 L151.2,486.9 L148.3,485.5 L145.4,484.5 L143.4,483.6 L141.5,483.1 L137.6,482.6 L131.4,482.8 L125.6,483.5 L121.5,483.0 L118.0,482.0 L115.0,483.5 L112.5,485.0 L110.0,486.5 L107.0,489.0 L104.0,492.5 L103.0,490.0 L104.5,486.0 L106.5,482.5 L109.5,478.0 L105.0,481.5 L101.0,485.0 L97.5,489.0 L94.5,493.0 L92.0,497.0 L89.5,501.0 L86.5,504.5 L83.5,508.4 L80.2,510.6 L76.8,512.9 L73.4,514.0 L70.0,515.2 L60.0,517.5 L50.0,519.5 L40.0,521.0 L30.0,522.0 L20.0,522.0 L10.0,521.0 L0.0,519.6 L0.0,518.6 L10.0,519.9 L20.0,520.9 L30.0,520.9 L40.0,519.9 L50.0,518.4 L60.0,516.2 L65.0,513.6 L70.0,510.6 L72.3,509.5 L74.5,509.0 L76.8,507.3 L80.2,505.0 L83.5,501.6 L84.7,497.1 L87.5,493.7 L85.8,493.1 L81.3,494.3 L79.0,493.7 L74.5,493.1 L71.8,494.2 L71.1,492.1 L68.9,489.1 L67.4,486.2 L66.0,483.3 L63.1,480.4 L60.9,477.5 L60.2,474.6 L61.6,473.2 L64.5,469.5 L68.9,465.9 L73.3,465.9 L74.7,463.0 L77.6,461.5 L76.9,458.6 L71.8,458.6 L67.4,457.2 L63.1,455.7 L60.9,453.5 L59.5,450.6 L61.6,449.2 L66.0,447.7 L70.4,449.2 L74.0,449.9 L76.9,449.2 L76.2,445.5 L73.3,444.1 L70.4,441.9 L67.4,439.0Z" fill="#fff"/>
<path d="M129.2,447.7 L111.1,450.6 L100.9,452.8 L92.2,460.1 L88.1,470.0 L83.5,476.8 L80.7,484.7 L79.6,492.6 L78.0,500.0 L75.0,508.0 L72.0,512.0 L70.0,525.0 L190.0,525.0 L190.0,447.0Z" fill="#d6edf6" clip-path="url(#akc)"/>
<path d="M66.0,436.1 L68.9,432.4 L73.3,428.8 L77.6,425.9 L83.4,423.7 L87.1,422.3 L90.7,420.8 L93.6,422.3 L98.0,424.5 L100.9,425.9 L105.2,425.2 L111.1,425.9 L116.9,426.6 L121.2,427.4 L124.5,427.4 L137.1,480.2 L142.5,479.2 L143.4,480.6 L148.3,483.6 L151.2,484.5 L153.1,482.6 L155.0,479.2 L157.9,480.6 L162.8,484.5 L167.6,487.4 L172.5,490.3 L178.3,492.7 L181.7,493.7 L182.1,497.1 L181.2,500.0 L178.3,502.0 L174.4,502.9 L171.5,501.9 L167.6,499.0 L164.7,497.1 L160.9,494.2 L157.0,491.3 L154.1,488.4 L151.2,486.9 L148.3,485.5 L145.4,484.5 L143.4,483.6 L141.5,483.1 L137.6,482.6 L131.4,482.8 L125.6,483.5 L121.5,483.0 L118.0,482.0 L115.0,483.5 L112.5,485.0 L110.0,486.5 L107.0,489.0 L104.0,492.5 L103.0,490.0 L104.5,486.0 L106.5,482.5 L109.5,478.0 L105.0,481.5 L101.0,485.0 L97.5,489.0 L94.5,493.0 L92.0,497.0 L89.5,501.0 L86.5,504.5 L83.5,508.4 L80.2,510.6 L76.8,512.9 L73.4,514.0 L70.0,515.2 L60.0,517.5 L50.0,519.5 L40.0,521.0 L30.0,522.0 L20.0,522.0 L10.0,521.0 L0.0,519.6 L0.0,518.6 L10.0,519.9 L20.0,520.9 L30.0,520.9 L40.0,519.9 L50.0,518.4 L60.0,516.2 L65.0,513.6 L70.0,510.6 L72.3,509.5 L74.5,509.0 L76.8,507.3 L80.2,505.0 L83.5,501.6 L84.7,497.1 L87.5,493.7 L85.8,493.1 L81.3,494.3 L79.0,493.7 L74.5,493.1 L71.8,494.2 L71.1,492.1 L68.9,489.1 L67.4,486.2 L66.0,483.3 L63.1,480.4 L60.9,477.5 L60.2,474.6 L61.6,473.2 L64.5,469.5 L68.9,465.9 L73.3,465.9 L74.7,463.0 L77.6,461.5 L76.9,458.6 L71.8,458.6 L67.4,457.2 L63.1,455.7 L60.9,453.5 L59.5,450.6 L61.6,449.2 L66.0,447.7 L70.4,449.2 L74.0,449.9 L76.9,449.2 L76.2,445.5 L73.3,444.1 L70.4,441.9 L67.4,439.0Z" fill="none" stroke="#555" stroke-width="0.6"/>
<path d="M54.4,484.0 L57.0,482.0 L60.2,483.5 L59.0,486.2 L55.5,486.0Z M46.2,459.5 L48.0,459.8 L51.5,462.5 L54.3,464.8 L53.0,465.3 L49.5,463.0 L46.5,461.0Z" fill="#fff" stroke="#555" stroke-width="0.6"/>
<path d="M96.0,505.5 L98.5,501.0 L102.5,497.5 L104.0,499.0 L101.5,503.5 L97.5,507.5Z" fill="#d6edf6" stroke="#555" stroke-width="0.6"/>
<path d="M124.5,427.4 L137.2,481.9" stroke="#aaa" stroke-width="0.6"/>
<path d="M44.6,412.6 L46.4,412.3 L46.2,414.2 L44.8,414Z" fill="#e0e0e0"/>
<g fill="none" stroke="#555" stroke-width="0.55">
<path d="M148.5,485.5 L156,490.5 M151,487.5 L160,494 M155,487.8 L166,495.5 M158.5,489.5 L170,498.5 M163,490.5 L175,499.8 M167,492.5 L179,500 M170.5,492 L178.5,497 M157,493.5 L163,498 M161,496 L167,500.5"/>
<path d="M112.5,479.5 L114.5,478 L116,480 L117.5,478.5 L119,481 M113,481.5 L115.5,482.2 L117,481"/>
<path d="M69,515.8 L66,516.6 M63.5,517.2 L60.5,518 M58,518.5 L54.5,519.3 M51.5,520 L48,520.4 M45,521 L41.5,521.3 M38,521.7 L34,522 M30.5,522.3 L27,522.3 M23.5,522.4 L20,522.3 M16.5,522 L13,521.6"/>
</g>
<rect x="186" y="402" width="110" height="147" fill="#f4f4f4"/><path d="M202.2,453.5 L203.5,451.2 L204.0,451.8 L202.8,453.8Z" fill="#fff" stroke="#999" stroke-width="0.7"/><path d="M209.5,447.5 L212.0,446.2 L215.5,446.6 L216.3,449.5 L214.5,452.8 L211.0,453.3 L209.2,451.0Z" fill="#fff" stroke="#999" stroke-width="0.7"/><path d="M230.4,456.5 L232.5,455.1 L234.5,457.5 L238.0,459.5 L239.2,462.8 L236.0,462.5 L232.5,460.5Z" fill="#fff" stroke="#999" stroke-width="0.7"/><path d="M243.7,464.0 L247.0,463.3 L252.5,464.3 L251.0,465.7 L246.0,465.5 L243.7,465.4Z" fill="#fff" stroke="#999" stroke-width="0.7"/><path d="M247.5,468.0 L249.5,467.5 L250.8,469.5 L249.0,471.0 L247.5,470.0Z" fill="#fff" stroke="#999" stroke-width="0.7"/><path d="M252.5,467.0 L254.5,465.7 L256.5,467.5 L259.0,467.8 L262.0,469.5 L263.2,472.0 L260.5,474.3 L257.5,473.5 L256.5,471.0 L253.5,469.5Z" fill="#fff" stroke="#999" stroke-width="0.7"/><path d="M252.2,474.2 L254.0,473.4 L254.8,474.6 L253.0,475.4Z" fill="#fff" stroke="#999" stroke-width="0.7"/><path d="M264.0,478.5 L266.5,478.1 L269.0,480.5 L273.0,482.5 L277.5,486.0 L280.0,491.0 L276.0,494.0 L271.5,497.0 L268.5,501.2 L265.0,499.5 L264.5,495.0 L262.0,490.0 L261.4,486.5 L263.0,483.0Z" fill="#fff" stroke="#999" stroke-width="0.7"/>
<rect x="299" y="402" width="321" height="147" fill="#f4f4f4"/>
<text x="385.5" y="420.7" font-size="12" font-weight="bold" font-style="normal" fill="#333" textLength="61.4" lengthAdjust="spacingAndGlyphs">Probability</text>
<text x="449" y="420.7" font-size="12" font-weight="normal" font-style="normal" fill="#333" textLength="91.3" lengthAdjust="spacingAndGlyphs">(percent chance)</text>
<text x="345" y="438.6" font-size="10.6" font-weight="bold" font-style="normal" fill="#333" textLength="71.9" lengthAdjust="spacingAndGlyphs">Below Normal</text>
<text x="447.4" y="438.1" font-size="10.6" font-weight="bold" font-style="normal" fill="#333" textLength="23.6" lengthAdjust="spacingAndGlyphs">Near</text>
<text x="440" y="451.8" font-size="10.6" font-weight="bold" font-style="normal" fill="#333" textLength="38.1" lengthAdjust="spacingAndGlyphs">Normal</text>
<text x="505.5" y="438.1" font-size="10.6" font-weight="bold" font-style="normal" fill="#333" textLength="72.6" lengthAdjust="spacingAndGlyphs">Above Normal</text>
<text x="446.8" y="502.3" font-size="10.6" font-weight="bold" font-style="normal" fill="#333" textLength="28.7" lengthAdjust="spacingAndGlyphs">Equal</text>
<text x="440" y="515.2" font-size="10.6" font-weight="bold" font-style="normal" fill="#333" textLength="42.3" lengthAdjust="spacingAndGlyphs">Chances</text>
<text x="305.3" y="453.2" font-size="10.6" font-weight="normal" font-style="italic" fill="#9a9a9a" textLength="38.4" lengthAdjust="spacingAndGlyphs">Leaning</text>
<text x="310.5" y="466.6" font-size="10.6" font-weight="normal" font-style="italic" fill="#9a9a9a" textLength="28.8" lengthAdjust="spacingAndGlyphs">Below</text>
<text x="309.8" y="503.1" font-size="10.6" font-weight="normal" font-style="italic" fill="#9a9a9a" textLength="27.9" lengthAdjust="spacingAndGlyphs">Likely</text>
<text x="308.5" y="517" font-size="10.6" font-weight="normal" font-style="italic" fill="#9a9a9a" textLength="30.0" lengthAdjust="spacingAndGlyphs">Below</text>
<text x="575.8" y="452.6" font-size="10.6" font-weight="normal" font-style="italic" fill="#9a9a9a" textLength="38.7" lengthAdjust="spacingAndGlyphs">Leaning</text>
<text x="580.3" y="466.8" font-size="10.6" font-weight="normal" font-style="italic" fill="#9a9a9a" textLength="29.4" lengthAdjust="spacingAndGlyphs">Above</text>
<text x="580.3" y="502.3" font-size="10.6" font-weight="normal" font-style="italic" fill="#9a9a9a" textLength="27.4" lengthAdjust="spacingAndGlyphs">Likely</text>
<text x="578.7" y="516.1" font-size="10.6" font-weight="normal" font-style="italic" fill="#9a9a9a" textLength="30.0" lengthAdjust="spacingAndGlyphs">Above</text>
<rect x="356.2" y="445.8" width="16.6" height="8.6" fill="#d9eff8" stroke="#777" stroke-width="0.9"/>
<text x="377.7" y="453.5" font-size="10.6" font-weight="normal" font-style="normal" fill="#4a4a4a" textLength="39.2" lengthAdjust="spacingAndGlyphs">33–40%</text>
<rect x="356.2" y="459.9" width="16.6" height="8.6" fill="#acd9ed" stroke="#777" stroke-width="0.9"/>
<text x="377.7" y="467.55" font-size="10.6" font-weight="normal" font-style="normal" fill="#4a4a4a" textLength="39.2" lengthAdjust="spacingAndGlyphs">40–50%</text>
<rect x="356.2" y="473.9" width="16.6" height="8.6" fill="#8ac5e2" stroke="#777" stroke-width="0.9"/>
<text x="377.7" y="481.6" font-size="10.6" font-weight="normal" font-style="normal" fill="#4a4a4a" textLength="39.2" lengthAdjust="spacingAndGlyphs">50–60%</text>
<rect x="356.2" y="488.0" width="16.6" height="8.6" fill="#68a6d5" stroke="#777" stroke-width="0.9"/>
<text x="377.7" y="495.65000000000003" font-size="10.6" font-weight="normal" font-style="normal" fill="#4a4a4a" textLength="39.2" lengthAdjust="spacingAndGlyphs">60–70%</text>
<rect x="356.2" y="502.0" width="16.6" height="8.6" fill="#4a83c3" stroke="#777" stroke-width="0.9"/>
<text x="377.7" y="509.7" font-size="10.6" font-weight="normal" font-style="normal" fill="#4a4a4a" textLength="39.2" lengthAdjust="spacingAndGlyphs">70–80%</text>
<rect x="356.2" y="516.1" width="16.6" height="8.6" fill="#3a5ba8" stroke="#777" stroke-width="0.9"/>
<text x="377.7" y="523.75" font-size="10.6" font-weight="normal" font-style="normal" fill="#4a4a4a" textLength="39.2" lengthAdjust="spacingAndGlyphs">80–90%</text>
<rect x="356.2" y="530.1" width="16.6" height="8.6" fill="#2c3490" stroke="#777" stroke-width="0.9"/>
<text x="377.7" y="537.8" font-size="10.6" font-weight="normal" font-style="normal" fill="#4a4a4a" textLength="45.2" lengthAdjust="spacingAndGlyphs">90–100%</text>
<rect x="548.9" y="445.8" width="16.8" height="8.6" fill="#fee8ae" stroke="#777" stroke-width="0.9"/>
<text x="544.2" y="453.5" font-size="10.6" font-weight="normal" font-style="normal" fill="#4a4a4a" text-anchor="end" textLength="38.7" lengthAdjust="spacingAndGlyphs">33–40%</text>
<rect x="548.9" y="459.9" width="16.8" height="8.6" fill="#fec97d" stroke="#777" stroke-width="0.9"/>
<text x="544.2" y="467.55" font-size="10.6" font-weight="normal" font-style="normal" fill="#4a4a4a" text-anchor="end" textLength="38.7" lengthAdjust="spacingAndGlyphs">40–50%</text>
<rect x="548.9" y="473.9" width="16.8" height="8.6" fill="#fca35c" stroke="#777" stroke-width="0.9"/>
<text x="544.2" y="481.6" font-size="10.6" font-weight="normal" font-style="normal" fill="#4a4a4a" text-anchor="end" textLength="38.7" lengthAdjust="spacingAndGlyphs">50–60%</text>
<rect x="548.9" y="488.0" width="16.8" height="8.6" fill="#f77c43" stroke="#777" stroke-width="0.9"/>
<text x="544.2" y="495.65000000000003" font-size="10.6" font-weight="normal" font-style="normal" fill="#4a4a4a" text-anchor="end" textLength="38.7" lengthAdjust="spacingAndGlyphs">60–70%</text>
<rect x="548.9" y="502.0" width="16.8" height="8.6" fill="#e54b33" stroke="#777" stroke-width="0.9"/>
<text x="544.2" y="509.7" font-size="10.6" font-weight="normal" font-style="normal" fill="#4a4a4a" text-anchor="end" textLength="38.7" lengthAdjust="spacingAndGlyphs">70–80%</text>
<rect x="548.9" y="516.1" width="16.8" height="8.6" fill="#cc2127" stroke="#777" stroke-width="0.9"/>
<text x="544.2" y="523.75" font-size="10.6" font-weight="normal" font-style="normal" fill="#4a4a4a" text-anchor="end" textLength="38.7" lengthAdjust="spacingAndGlyphs">80–90%</text>
<rect x="548.9" y="530.1" width="16.8" height="8.6" fill="#a10128" stroke="#777" stroke-width="0.9"/>
<text x="544.2" y="537.8" font-size="10.6" font-weight="normal" font-style="normal" fill="#4a4a4a" text-anchor="end" textLength="44.5" lengthAdjust="spacingAndGlyphs">90–100%</text>
<rect x="431.8" y="459.9" width="16.3" height="8.6" fill="#c8c8c8" stroke="#777" stroke-width="0.9"/>
<text x="451.6" y="467.55" font-size="10.6" font-weight="normal" font-style="normal" fill="#4a4a4a" textLength="39.4" lengthAdjust="spacingAndGlyphs">33–40%</text>
<rect x="431.8" y="473.9" width="16.3" height="8.6" fill="#a4a4a4" stroke="#777" stroke-width="0.9"/>
<text x="451.6" y="481.6" font-size="10.6" font-weight="normal" font-style="normal" fill="#4a4a4a" textLength="39.4" lengthAdjust="spacingAndGlyphs">40–50%</text>
<rect x="452.8" y="522.9" width="16.3" height="7.2" fill="#fff" stroke="#777" stroke-width="0.9"/>
<path d="M352.9,446.5 H349.5 V468.5 H352.9" fill="none" stroke="#bbb" stroke-width="0.9"/>
<path d="M352.4,473.6 H349 V538.9 H352.4" fill="none" stroke="#bbb" stroke-width="0.9"/>
<path d="M568.4,446.1 H572 V468.4 H568.4" fill="none" stroke="#bbb" stroke-width="0.9"/>
<path d="M568.4,473.9 H572 V539 H568.4" fill="none" stroke="#bbb" stroke-width="0.9"/>
<text x="2.6" y="558.8" font-size="11.5" font-weight="normal" font-style="normal" fill="#858585" textLength="108.9" lengthAdjust="spacingAndGlyphs">Temperature Outlook</text>
<text x="2.6" y="569.9" font-size="11.5" font-weight="normal" font-style="normal" fill="#858585" textLength="95.4" lengthAdjust="spacingAndGlyphs">for November 2021</text>
<text x="2.6" y="581.5" font-size="11.5" font-weight="normal" font-style="normal" fill="#858585" textLength="90.3" lengthAdjust="spacingAndGlyphs">Issued 21 Oct 2021</text>
<text x="462.3" y="559.1" font-size="11.5" font-weight="normal" font-style="normal" fill="#858585" textLength="155.0" lengthAdjust="spacingAndGlyphs">NWS Climate Prediction Center</text>
<text x="462.3" y="569.6" font-size="11.5" font-weight="normal" font-style="normal" fill="#858585" textLength="130.8" lengthAdjust="spacingAndGlyphs">Map by NOAA Climate.gov</text>
</svg>
</body></html>
